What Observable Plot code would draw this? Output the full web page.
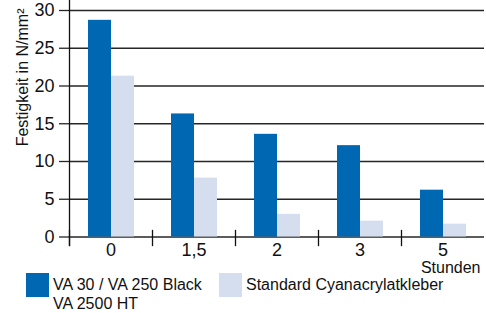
<!DOCTYPE html>
<html><head><meta charset="utf-8">
<script src="https://cdn.jsdelivr.net/npm/d3@7"></script>
<script src="https://cdn.jsdelivr.net/npm/@observablehq/plot@0.6"></script>
<style>
body{margin:0;background:#fff;font-family:"Liberation Sans",Arial,sans-serif;}
#wrap{position:relative;width:486px;height:313px;overflow:hidden;}
#chart svg{display:block;}
.lg{position:absolute;font-size:16px;line-height:19px;color:#111;white-space:nowrap;}
.sw{position:absolute;width:23px;height:24px;}
</style></head><body>
<div id="wrap"><div id="chart"></div><div id="legend"></div></div>
<script>
const times = ["0", "1,5", "2", "3", "5"];
const seriesKeys = ["va", "std"];
const seriesLabels = ["VA 30 / VA 250 Black\nVA 2500 HT", "Standard Cyanacrylatkleber"];
const vaValues = [28.7, 16.3, 13.6, 12.1, 6.2];
const stdValues = [21.3, 7.8, 3.0, 2.1, 1.7];
const yTicks = [0, 5, 10, 15, 20, 25, 30];
const colors = ["#0068b3", "#d4deef"];
const yLabel = "Festigkeit in N/mm²";
const xUnit = "Stunden";

const data = times.flatMap((t, i) => [
  {time: t, series: "va", value: vaValues[i]},
  {time: t, series: "std", value: stdValues[i]}
]);

const lineColor = "#262626";
const plot = Plot.plot({
  width: 486, height: 275,
  marginTop: 10, marginBottom: 38.5, marginLeft: 68, marginRight: 2,
  style: {fontFamily: "Liberation Sans, Arial, sans-serif", fontSize: "18px", color: "#111", background: "transparent"},
  fx: {domain: times, padding: 0},
  x: {domain: seriesKeys, paddingInner: 0, paddingOuter: 0.8, axis: null},
  y: {domain: [0, 30]},
  color: {domain: seriesKeys, range: colors},
  marks: [
    Plot.gridY(yTicks, {stroke: lineColor, strokeWidth: 1.3, strokeOpacity: 1}),
    Plot.axisY(yTicks, {tickSize: 10, tickPadding: 5, label: null, stroke: lineColor, strokeWidth: 1.3, fontSize: 18}),
    Plot.axisFx({anchor: "bottom", tickSize: 0, tickPadding: 6, label: null, fontSize: 18}),
    Plot.frame({anchor: "left", insetTop: 220, insetBottom: -8.5, stroke: "#111", strokeWidth: 1.3}),
    Plot.frame({anchor: "left", facetAnchor: "left", insetTop: -10, insetBottom: -8.5, stroke: "#111", strokeWidth: 1.3}),
    Plot.barY(data, {fx: "time", x: "series", y: "value", fill: "series"}),
    Plot.text([xUnit], {fx: [times[times.length - 1]], frameAnchor: "bottom-right", textAnchor: "end", lineAnchor: "middle", dx: -4, dy: 31, fontSize: 16, fill: "#111"}),
    Plot.text([yLabel], {fx: [times[0]], frameAnchor: "top-left", rotate: -90, textAnchor: "end", lineAnchor: "middle", dx: -46.5, dy: -2, fontSize: 16, fill: "#111"})
  ]
});
document.getElementById("chart").appendChild(plot);

const legend = document.getElementById("legend");
const lgPos = [{sx: 26, tx: 53}, {sx: 219, tx: 246}];
seriesKeys.forEach((k, i) => {
  const sw = document.createElement("div");
  sw.className = "sw";
  sw.style.left = lgPos[i].sx + "px";
  sw.style.top = "273px";
  sw.style.background = colors[i];
  legend.appendChild(sw);
  const tx = document.createElement("div");
  tx.className = "lg";
  tx.style.left = lgPos[i].tx + "px";
  tx.style.top = "275px";
  tx.innerHTML = seriesLabels[i].split("\n").join("<br>");
  legend.appendChild(tx);
});
</script>
</body></html>
